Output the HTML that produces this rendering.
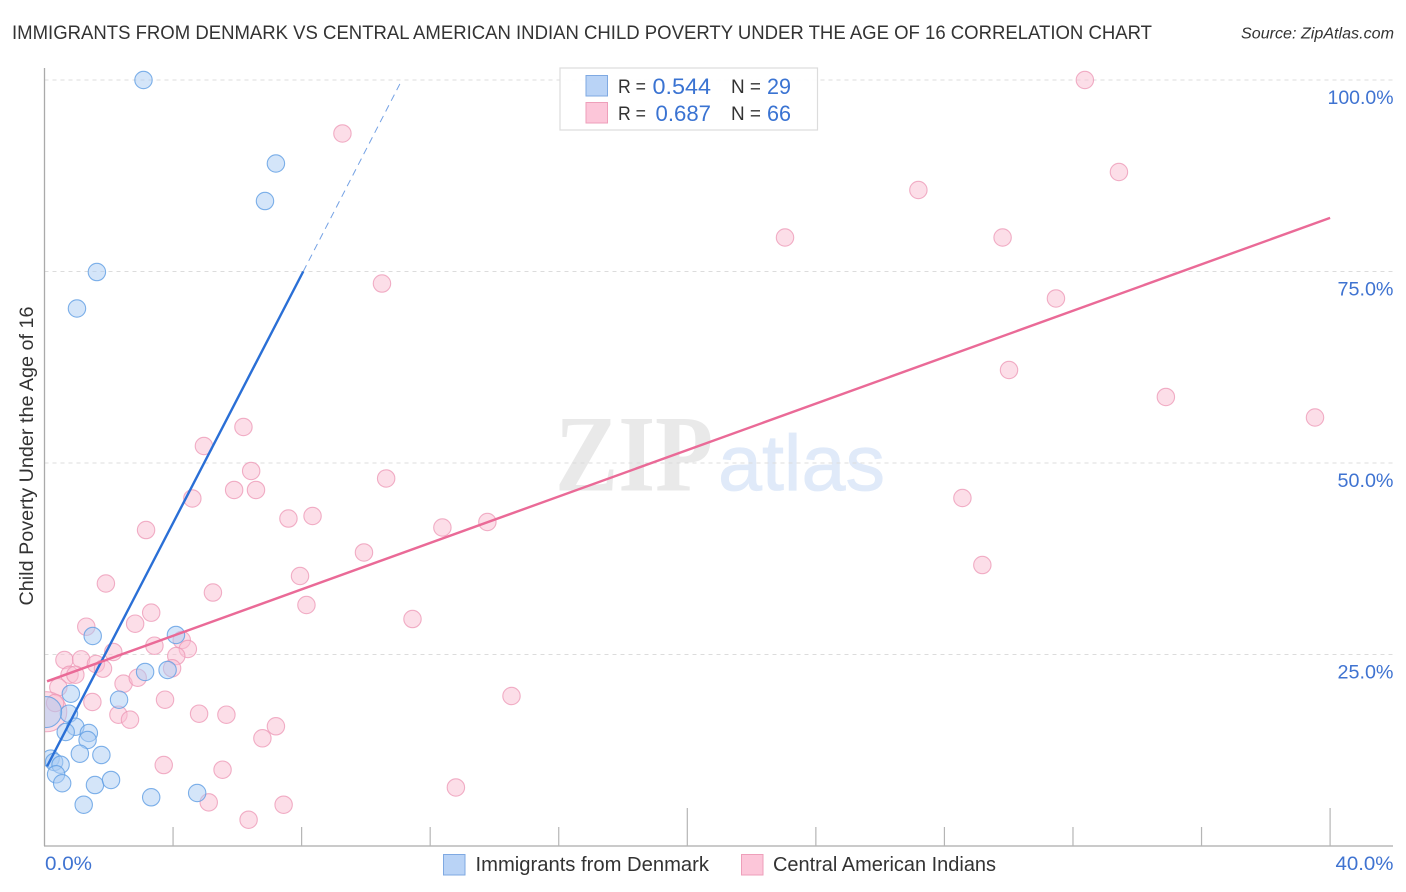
<!DOCTYPE html>
<html lang="en">
<head>
<meta charset="utf-8">
<title>Immigrants from Denmark vs Central American Indian Child Poverty Correlation Chart</title>
<style>
html,body{margin:0;padding:0;background:#fff;width:1406px;height:892px;overflow:hidden}
svg{display:block;font-family:"Liberation Sans",sans-serif}
</style>
</head>
<body>
<svg id="chart" xmlns="http://www.w3.org/2000/svg" width="1406" height="892" viewBox="0 0 1406 892">
  <defs><clipPath id="plot-clip"><rect x="45" y="60" width="1350" height="786"/></clipPath></defs>
  <rect x="0" y="0" width="1406" height="892" fill="#fff"/>
  <text x="12" y="39" font-size="19.5" fill="#333" textLength="1140" lengthAdjust="spacingAndGlyphs">IMMIGRANTS FROM DENMARK VS CENTRAL AMERICAN INDIAN CHILD POVERTY UNDER THE AGE OF 16 CORRELATION CHART</text>
  <text x="1241" y="38.5" font-size="15.5" font-style="italic" fill="#333" textLength="153" lengthAdjust="spacingAndGlyphs">Source: ZipAtlas.com</text>
  <g>
    <text x="555" y="490.5" font-family="Liberation Serif, serif" font-size="109" font-weight="bold" fill="#e9e9e9" textLength="158" lengthAdjust="spacingAndGlyphs">ZIP</text>
    <text x="718" y="490" font-size="79" fill="#e0eaf9" stroke="#e0eaf9" stroke-width="0.8" textLength="167" lengthAdjust="spacingAndGlyphs">atlas</text>
  </g>
  <g id="grid"></g>
  <g id="axes"></g>
  <g id="pink-points" clip-path="url(#plot-clip)"></g>
  <g id="blue-points" clip-path="url(#plot-clip)"></g>
  <g id="trends"></g>
  <g id="labels"></g>
  <text transform="translate(33,456) rotate(-90)" text-anchor="middle" font-size="19" fill="#333" textLength="299" lengthAdjust="spacingAndGlyphs">Child Poverty Under the Age of 16</text>
  <g>
    <rect x="560" y="68" width="257.5" height="62" fill="#fff" fill-opacity="0.9" stroke="#dcdcdc" stroke-width="1.2"/>
    <rect x="586" y="75.5" width="21.5" height="20.5" fill="#b9d3f6" stroke="#7fa9e2" stroke-width="1"/>
    <rect x="586" y="102.5" width="21.5" height="20.5" fill="#fcc6d9" stroke="#ee9fba" stroke-width="1"/>
    <text x="618" y="93" font-size="19" fill="#333" textLength="28" lengthAdjust="spacingAndGlyphs">R =</text>
    <text x="652.5" y="94" font-size="22" fill="#3a73d2" textLength="58.5" lengthAdjust="spacingAndGlyphs">0.544</text>
    <text x="731" y="93" font-size="19" fill="#333" textLength="30" lengthAdjust="spacingAndGlyphs">N =</text>
    <text x="767" y="94" font-size="22" fill="#3a73d2" textLength="24" lengthAdjust="spacingAndGlyphs">29</text>
    <text x="618" y="120" font-size="19" fill="#333" textLength="28" lengthAdjust="spacingAndGlyphs">R =</text>
    <text x="655.5" y="121" font-size="22" fill="#3a73d2" textLength="55.5" lengthAdjust="spacingAndGlyphs">0.687</text>
    <text x="731" y="120" font-size="19" fill="#333" textLength="30" lengthAdjust="spacingAndGlyphs">N =</text>
    <text x="767" y="121" font-size="22" fill="#3a73d2" textLength="24" lengthAdjust="spacingAndGlyphs">66</text>
  </g>
  <g>
    <g>
      <rect x="443.5" y="854.5" width="21.5" height="20.5" fill="#b9d3f6" stroke="#7fa9e2" stroke-width="1"/>
      <text x="475.5" y="871" font-size="20" fill="#333" textLength="233.5" lengthAdjust="spacingAndGlyphs">Immigrants from Denmark</text>
    </g>
    <g>
      <rect x="741.5" y="854.5" width="21.5" height="20.5" fill="#fcc6d9" stroke="#ee9fba" stroke-width="1"/>
      <text x="773" y="871" font-size="20" fill="#333" textLength="223" lengthAdjust="spacingAndGlyphs">Central American Indians</text>
    </g>
  </g>
</svg>
<script>
const denmarkX = [3.08,7.20,6.86,1.63,1.01,1.50,4.09,3.83,3.13,0.82,2.32,0.76,0.05,0.96,0.66,1.38,1.34,1.10,1.77,0.19,0.30,0.50,0.36,0.55,1.57,2.07,1.22,3.32,4.75];
const denmarkY = [100,89.1,84.2,74.93,70.17,27.42,27.55,22.98,22.72,19.88,19.10,17.27,17.49,15.57,14.88,14.75,13.84,12.05,11.88,11.40,10.97,10.61,9.36,8.19,7.96,8.62,5.39,6.36,6.92];
const denmarkWeight = [1,1,1,1,1,1,1,1,1,1,1,1,3.17,1,1,1,1,1,1,1,1,1,1,1,1,1,1,1,1];
const centralX = [1.30,2.82,3.32,8.15,2.14,3.42,4.27,4.46,4.10,3.97,0.62,1.14,1.60,1.82,0.78,0.96,2.46,2.90,0.43,1.49,3.75,2.30,2.66,4.81,5.66,7.20,6.78,3.71,5.54,5.11,7.44,6.35,0.07,0.33,32.37,9.27,33.43,27.19,23.04,29.81,10.50,31.47,30.01,34.89,39.53,6.19,4.96,6.43,10.63,5.90,6.58,4.60,28.56,7.59,8.34,3.16,12.38,13.78,9.94,29.18,1.91,5.24,7.95,11.45,14.53,12.80];
const centralY = [28.63,29.02,30.46,31.46,25.33,26.15,26.89,25.72,24.80,23.20,24.28,24.37,23.76,23.15,22.36,22.36,21.19,21.97,20.72,18.80,19.10,17.14,16.49,17.27,17.14,15.63,14.06,10.57,9.96,5.70,5.39,3.43,17.53,18.67,100,93.02,87.99,85.64,79.44,79.44,73.43,71.48,62.14,58.62,55.94,54.70,52.22,48.96,47.98,46.48,46.48,45.37,45.43,42.75,43.08,41.25,41.58,42.30,38.32,36.68,34.27,33.09,35.25,29.63,19.58,7.64];
const centralWeight = [1,1,1,1,1,1,1,1,1,1,1,1,1,1,1,1,1,1,1,1,1,1,1,1,1,1,1,1,1,1,1,1,5.3,1,1,1,1,1,1,1,1,1,1,1,1,1,1,1,1,1,1,1,1,1,1,1,1,1,1,1,1,1,1,1,1,1];
const denmarkTrendX = [0.08,8.05];
const denmarkTrendY = [10.4,75];
const denmarkExtensionX = [8.05,11.12];
const denmarkExtensionY = [75,100];
const centralTrendX = [0.08,40];
const centralTrendY = [21.5,82];
const yTickValues = [25,50,75,100];
const yTickLabels = ["25.0%","50.0%","75.0%","100.0%"];
const xTickValues = [4,8,12,16,20,24,28,32,36,40];
const xEndValues = [0,40];
const xEndLabels = ["0.0%","40.0%"];

const NS = "http://www.w3.org/2000/svg";
const xScale = v => 44.5 + v * 32.14;
const yScale = v => 846 - v * 7.66;
const make = (parentId, tag, props) => {
  const el = document.createElementNS(NS, tag);
  for (const k in props) el.setAttribute(k, props[k]);
  document.getElementById(parentId).appendChild(el);
  return el;
};

yTickValues.forEach((v, i) => {
  const line = make("grid", "line", {x1: 44.5, x2: 1393, y1: yScale(v), y2: yScale(v), stroke: "#dcdcdc", "stroke-width": 1, "stroke-dasharray": "4 4"});
  
  
  const label = make("labels", "text", {x: 1393.5, y: yScale(v) + 24, "text-anchor": "end", "font-size": 19.5, fill: "#3f73d1"});
  
  
  label.setAttribute('textLength', v === 100 ? 66 : 56);
  label.setAttribute('lengthAdjust', 'spacingAndGlyphs');
  label.textContent = yTickLabels[i];
});

const leftAxis = make("axes", "line", {x1: 44.5, x2: 44.5, y1: 68, y2: 846, stroke: "#aaa", "stroke-width": 1.3});


const bottomAxis = make("axes", "line", {x1: 44, x2: 1393, y1: 846, y2: 846, stroke: "#aaa", "stroke-width": 1.3});


xTickValues.forEach(v => {
  const tick = make("axes", "line", {x1: xScale(v), x2: xScale(v), y1: v % 20 === 0 ? 808 : 827, y2: 846, stroke: "#b5b5b5", "stroke-width": 1.2});
  
  
});
xEndValues.forEach((v, i) => {
  const label = make("labels", "text", {x: i === 0 ? 45 : 1393.5, y: 870, "text-anchor": i === 0 ? "start" : "end", "font-size": 19.5, fill: "#3f73d1"});
  
  
  label.setAttribute('textLength', i === 0 ? 47 : 58);
  label.setAttribute('lengthAdjust', 'spacingAndGlyphs');
  label.textContent = xEndLabels[i];
});

centralX.forEach((v, i) => {
  const dot = make("pink-points", "circle", {cx: xScale(v), cy: yScale(centralY[i]), r: 8.7 * Math.sqrt(centralWeight[i]), fill: "#f9bdd1", "fill-opacity": 0.5, stroke: "#ec96b4", "stroke-opacity": 0.75, "stroke-width": 1.1});
  
  
});
denmarkX.forEach((v, i) => {
  const dot = make("blue-points", "circle", {cx: xScale(v), cy: yScale(denmarkY[i]), r: 8.7 * Math.sqrt(denmarkWeight[i]), fill: "#a9cbf3", "fill-opacity": 0.5, stroke: "#5f9de4", "stroke-opacity": 0.8, "stroke-width": 1.1});
  
  
});

const blueExt = make("trends", "line", {x1: xScale(denmarkExtensionX[0]), y1: yScale(denmarkExtensionY[0]), x2: xScale(denmarkExtensionX[1]), y2: yScale(denmarkExtensionY[1]), stroke: "#2a6fd6", "stroke-width": 1, "stroke-dasharray": "7 5", "stroke-opacity": 0.65});


const blueTrend = make("trends", "line", {x1: xScale(denmarkTrendX[0]), y1: yScale(denmarkTrendY[0]), x2: xScale(denmarkTrendX[1]), y2: yScale(denmarkTrendY[1]), stroke: "#2a6fd6", "stroke-width": 2.4});


const pinkTrend = make("trends", "line", {x1: xScale(centralTrendX[0]), y1: yScale(centralTrendY[0]), x2: xScale(centralTrendX[1]), y2: yScale(centralTrendY[1]), stroke: "#ea6a97", "stroke-width": 2.4});


</script>
</body>
</html>
